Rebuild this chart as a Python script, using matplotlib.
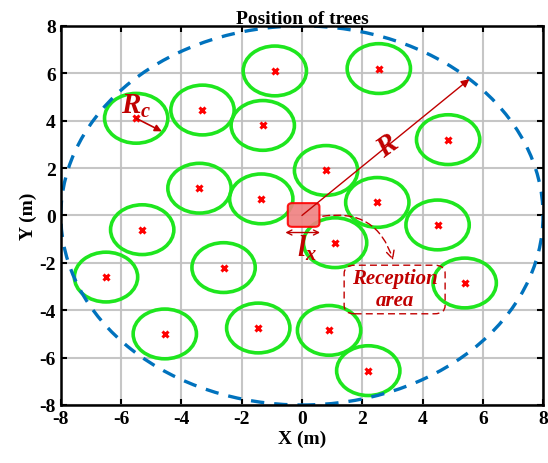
import numpy as np
import matplotlib.pyplot as plt
from matplotlib.patches import Circle, FancyBboxPatch, FancyArrowPatch

plt.rcParams['font.family'] = ['Liberation Serif', 'DejaVu Serif']
plt.rcParams['font.weight'] = 'bold'
plt.rcParams['axes.unicode_minus'] = False
plt.rcParams['mathtext.fontset'] = 'custom'
plt.rcParams['mathtext.it'] = 'Liberation Serif:italic:bold'
plt.rcParams['mathtext.rm'] = 'Liberation Serif:bold'

# tree positions (m)
tree_x = [-0.9, -5.5, -3.3, -1.3, -3.4, -1.35, 2.55, 4.85, 0.8, 2.5,
          -5.3, -6.5, -2.6, -4.55, -1.45, 4.5, 1.1, 5.4, 0.9, 2.2]
tree_y = [6.1, 4.1, 4.45, 3.8, 1.15, 0.7, 6.2, 3.2, 1.9, 0.55,
          -0.6, -2.6, -2.2, -5.0, -4.75, -0.4, -1.15, -2.85, -4.85, -6.55]
Rc = 1.05      # canopy radius
R = 8.0        # area radius
lx = 1.0       # receiver size
ticks = [-8, -6, -4, -2, 0, 2, 4, 6, 8]

dark_red = '#C00000'

fig = plt.figure(figsize=(5.48, 4.64), dpi=100)
ax = fig.add_axes([0.111, 0.125, 0.880, 0.817])

# canopies
for x, y in zip(tree_x, tree_y):
    ax.add_patch(Circle((x, y), Rc, fill=False, ec='#1EE61E', lw=2.6, zorder=3))
ax.plot(tree_x, tree_y, 'x', color='red', ms=5, mew=2.2, zorder=4)

# boundary of the area
ax.add_patch(Circle((0, 0), R, fill=False, ec='#0072BD', lw=2.4,
                    ls=(0, (4, 3)), zorder=3))

# receiver
ax.add_patch(FancyBboxPatch((-0.47, -0.48), 1.05, 1.0,
                            boxstyle='round,pad=0,rounding_size=0.15',
                            fc='#F08080', ec='red', lw=1.5, alpha=0.9, zorder=5))

# R arrow
ang = np.deg2rad(46)
ax.annotate('', xy=(R * np.cos(ang), R * np.sin(ang)), xytext=(0, 0),
            arrowprops=dict(arrowstyle='-|>', color=dark_red, lw=1.0,
                            mutation_scale=12, shrinkA=0, shrinkB=0), zorder=6)
ax.text(2.85, 2.95, '$R$', color=dark_red, fontsize=21, rotation=36,
        ha='center', va='center', zorder=6)

# Rc arrow
ax.annotate('', xy=(tree_x[1] + 0.85, tree_y[1] - 0.55), xytext=(tree_x[1], tree_y[1]),
            arrowprops=dict(arrowstyle='-|>', color=dark_red, lw=1.2,
                            mutation_scale=10, shrinkA=0, shrinkB=0), zorder=6)
ax.text(-5.5, 4.65, '$R_c$', color=dark_red, fontsize=21,
        ha='center', va='center', zorder=6)

# lx arrow
ax.annotate('', xy=(0.6, -0.72), xytext=(-0.55, -0.72),
            arrowprops=dict(arrowstyle='<->', color=dark_red, lw=1.0,
                            mutation_scale=9, shrinkA=0, shrinkB=0), zorder=6)
ax.text(0.15, -1.35, '$l_x$', color=dark_red, fontsize=21,
        ha='center', va='center', zorder=6)

# reception area
ax.add_patch(FancyArrowPatch((0.6, -0.05), (3.05, -2.0),
                             connectionstyle='arc3,rad=-0.45', arrowstyle='->',
                             mutation_scale=14, color=dark_red, lw=1.0,
                             ls=(0, (5, 3)), zorder=6))
ax.add_patch(FancyBboxPatch((1.4, -4.15), 3.35, 2.05,
                            boxstyle='round,pad=0,rounding_size=0.35',
                            fill=False, ec=dark_red, lw=1.0, ls=(0, (5, 3)), zorder=6))
ax.text(3.07, -3.1, 'Reception\narea', color=dark_red, fontsize=15,
        fontstyle='italic', fontweight='bold', ha='center', va='center',
        linespacing=1.1, zorder=6)

ax.set_xlim(-8, 8)
ax.set_ylim(-8, 8)
ax.set_xticks(ticks)
ax.set_yticks(ticks)
ax.tick_params(direction='in', top=True, right=True, labelsize=14,
               length=4, width=1.5)
for lab in ax.get_xticklabels() + ax.get_yticklabels():
    lab.set_fontweight('bold')
ax.grid(color='#c0c0c0', lw=1.5, alpha=0.9)
ax.set_axisbelow(True)
for sp in ax.spines.values():
    sp.set_linewidth(1.8)
    sp.set_zorder(7)

ax.set_title('Position of trees', fontsize=14, fontweight='bold', pad=2)
ax.set_xlabel('X (m)', fontsize=14, fontweight='bold', labelpad=2)
ax.set_ylabel('Y (m)', fontsize=14, fontweight='bold', labelpad=2)

fig.savefig('out.png', dpi=100)
